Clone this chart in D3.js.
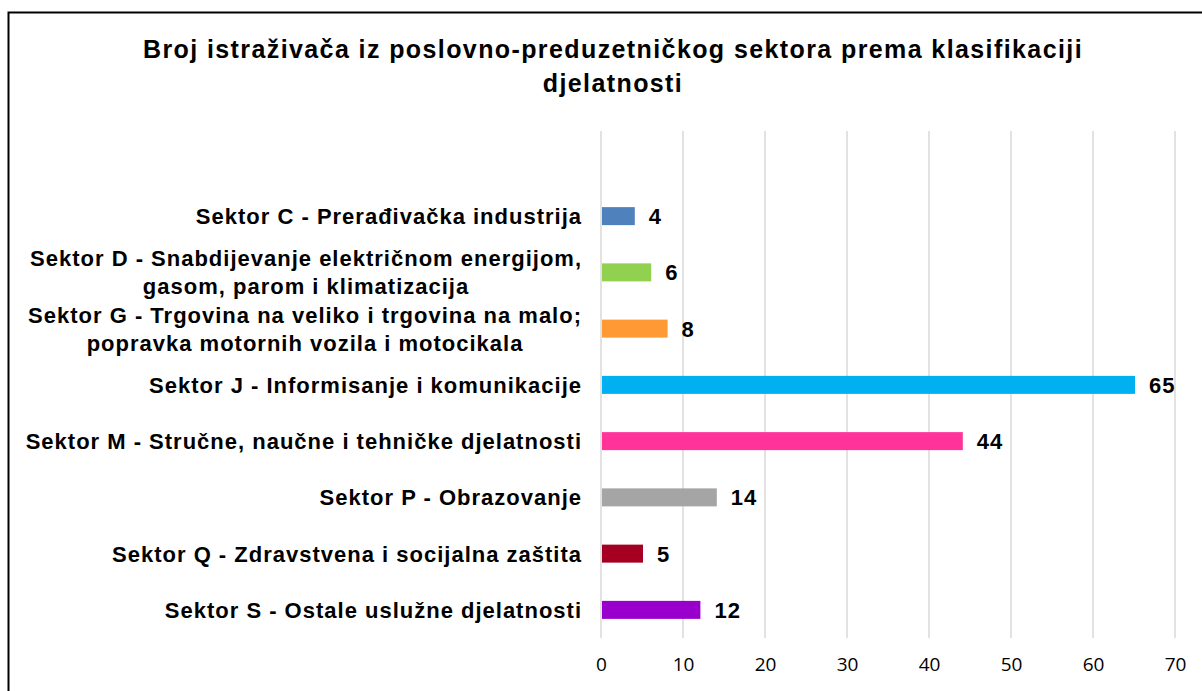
<!DOCTYPE html>
<html>
<head>
<meta charset="utf-8">
<script src="https://cdn.jsdelivr.net/npm/d3@7"></script>
<style>
  body { margin: 0; background: #fff; }
  svg { display: block; }
</style>
</head>
<body>
<script>
// Chart data
const categories = [
  ["Sektor C - Prerađivačka industrija"],
  ["Sektor D - Snabdijevanje električnom energijom,", "gasom, parom i klimatizacija"],
  ["Sektor G - Trgovina na veliko i trgovina na malo;", "popravka motornih vozila i motocikala"],
  ["Sektor J - Informisanje i komunikacije"],
  ["Sektor M - Stručne, naučne i tehničke djelatnosti"],
  ["Sektor P - Obrazovanje"],
  ["Sektor Q - Zdravstvena i socijalna zaštita"],
  ["Sektor S - Ostale uslužne djelatnosti"]
];
const values = [4, 6, 8, 65, 44, 14, 5, 12];
const barColors = ["#4F81BD", "#92D050", "#FF9933", "#00B0F0", "#FF3399", "#A5A5A5", "#A50021", "#9900CC"];
const tickValues = [0, 10, 20, 30, 40, 50, 60, 70];
const titleLines = ["Broj istraživača iz poslovno-preduzetničkog sektora prema klasifikaciji", "djelatnosti"];

const width = 1202, height = 691;
const plot = { left: 601, right: 1175, top: 188, bottom: 638, gridTop: 131 };
const font = "'Liberation Sans', Arial, sans-serif";

const svg = d3.select("body").append("svg")
  .attr("width", width)
  .attr("height", height);

// chart border
svg.append("rect")
  .attr("x", 8.5).attr("y", 12.5)
  .attr("width", 1210).attr("height", 700)
  .attr("fill", "none")
  .attr("stroke", "#000")
  .attr("stroke-width", 2);

// title
svg.append("g").selectAll("text")
  .data(titleLines)
  .enter().append("text")
  .attr("x", 613)
  .attr("y", (d, i) => 58 + i * 34)
  .attr("text-anchor", "middle")
  .attr("font-family", font)
  .attr("font-weight", "bold")
  .attr("font-size", "25px")
  .attr("letter-spacing", "1.4px")
  .attr("fill", "#000")
  .text(d => d);

const x = d3.scaleLinear().domain([0, 70]).range([plot.left, plot.right]);
const y = d3.scaleBand()
  .domain(d3.range(categories.length))
  .range([plot.top, plot.bottom])
  .paddingInner(0.68)
  .paddingOuter(0.34);

// gridlines
svg.append("g").selectAll("line")
  .data(tickValues)
  .enter().append("line")
  .attr("x1", d => x(d)).attr("x2", d => x(d))
  .attr("y1", plot.gridTop).attr("y2", plot.bottom)
  .attr("stroke", "#d9d9d9")
  .attr("stroke-width", 1.5);

// x axis labels
const xAxis = d3.axisBottom(x).tickValues(tickValues).tickSize(0).tickPadding(20);
const xg = svg.append("g")
  .attr("transform", `translate(0, ${plot.bottom})`)
  .call(xAxis);
xg.select(".domain").remove();
xg.selectAll("text")
  .attr("font-family", "'Open Sans', 'Noto Sans', sans-serif")
  .attr("font-size", "19px")
  .attr("fill", "#000");

// bars
svg.append("g").selectAll("rect")
  .data(values)
  .enter().append("rect")
  .attr("x", x(0) + 1)
  .attr("y", (d, i) => y(i))
  .attr("width", d => x(d) - x(0))
  .attr("height", y.bandwidth())
  .attr("fill", (d, i) => barColors[i]);

// value labels
svg.append("g").selectAll("text")
  .data(values)
  .enter().append("text")
  .attr("x", d => x(d) + 15)
  .attr("y", (d, i) => y(i) + y.bandwidth() / 2)
  .attr("dy", "0.36em")
  .attr("font-family", font)
  .attr("font-weight", "bold")
  .attr("font-size", "22px")
  .attr("letter-spacing", "1px")
  .attr("fill", "#000")
  .text(d => d);

// category labels, multi-line centred within a right-aligned block
const labelRight = 582;
const lineH = 28;
categories.forEach((lines, i) => {
  const cy = y(i) + y.bandwidth() / 2;
  const g = svg.append("g");
  const texts = g.selectAll("text")
    .data(lines)
    .enter().append("text")
    .attr("y", (d, j) => cy + (j - (lines.length - 1) / 2) * lineH)
    .attr("dy", "0.36em")
    .attr("text-anchor", "middle")
    .attr("font-family", font)
    .attr("font-weight", "bold")
    .attr("font-size", "22px")
    .attr("letter-spacing", "1px")
    .attr("fill", "#000")
    .text(d => d);
  const maxW = d3.max(texts.nodes(), n => n.getComputedTextLength());
  texts.attr("x", labelRight - maxW / 2);
});
</script>
</body>
</html>
